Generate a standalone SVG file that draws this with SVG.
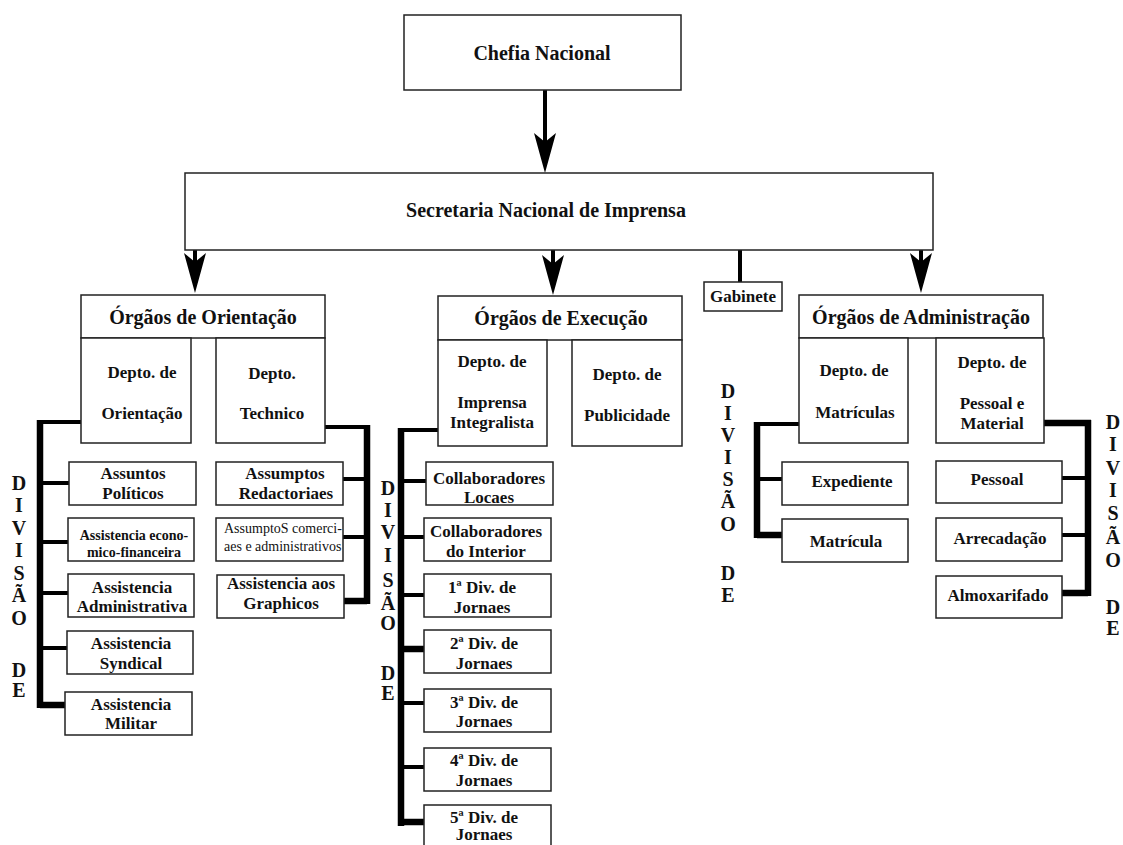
<svg xmlns="http://www.w3.org/2000/svg" width="1123" height="845" viewBox="0 0 1123 845">
<style>
.box{fill:#fff;stroke:#222;stroke-width:1.5}
.t{font-family:"Liberation Serif","Times New Roman",serif;font-weight:bold;font-size:17px;text-anchor:middle;fill:#111}
.h{font-size:20px}
.s14{font-size:14px}
.reg{font-weight:normal;text-anchor:start}
.dv{font-family:"Liberation Serif","Times New Roman",serif;font-weight:bold;font-size:20px;text-anchor:middle;fill:#111}
.ln{stroke:#000;fill:none;stroke-linecap:butt}
.w4{stroke-width:4}
.w6{stroke-width:6.5}
</style>
<defs>
<marker id="ah" markerUnits="userSpaceOnUse" viewBox="0 0 40 22" markerWidth="40" markerHeight="22" refX="9" refY="11" orient="auto">
<path d="M0,0 Q22,6 40,11 Q22,16 0,22 L9,11 Z" fill="#000"/>
</marker>
</defs>
<rect x="0" y="0" width="1123" height="845" fill="#fff"/>

<g id="connectors">
<line class="ln w4" x1="545" y1="90" x2="545" y2="142" marker-end="url(#ah)"/>
<line class="ln w4" x1="195" y1="250" x2="195" y2="262" marker-end="url(#ah)"/>
<line class="ln w4" x1="553" y1="250" x2="553" y2="264" marker-end="url(#ah)"/>
<line class="ln w4" x1="921" y1="250" x2="921" y2="262" marker-end="url(#ah)"/>
<line class="ln w4" x1="740" y1="250" x2="740" y2="282"/>
<!-- Orientação bus -->
<line class="ln w4" x1="40" y1="422" x2="81" y2="422"/>
<line class="ln w6" x1="40" y1="420" x2="40" y2="708"/>
<line class="ln w4" x1="40" y1="483" x2="69" y2="483"/>
<line class="ln w4" x1="40" y1="542" x2="68" y2="542"/>
<line class="ln w4" x1="40" y1="593" x2="68" y2="593"/>
<line class="ln w4" x1="40" y1="648" x2="67" y2="648"/>
<line class="ln w6" x1="40" y1="705" x2="65" y2="705"/>
<!-- Technico bus -->
<line class="ln w4" x1="325" y1="427" x2="370" y2="427"/>
<line class="ln w6" x1="367" y1="425" x2="367" y2="604"/>
<line class="ln w4" x1="343" y1="479" x2="367" y2="479"/>
<line class="ln w4" x1="343" y1="537" x2="367" y2="537"/>
<line class="ln w6" x1="344" y1="601" x2="367" y2="601"/>
<!-- Execução bus -->
<line class="ln w4" x1="401" y1="430" x2="438" y2="430"/>
<line class="ln w6" x1="401" y1="428" x2="401" y2="826"/>
<line class="ln w4" x1="401" y1="481" x2="426" y2="481"/>
<line class="ln w4" x1="401" y1="537" x2="424" y2="537"/>
<line class="ln w4" x1="401" y1="595" x2="424" y2="595"/>
<line class="ln w6" x1="401" y1="649" x2="424" y2="649"/>
<line class="ln w4" x1="401" y1="703" x2="424" y2="703"/>
<line class="ln w4" x1="401" y1="767" x2="424" y2="767"/>
<line class="ln w6" x1="401" y1="822" x2="424" y2="822"/>
<!-- Matrículas bus -->
<line class="ln w4" x1="757" y1="424" x2="799" y2="424"/>
<line class="ln w6" x1="757" y1="422" x2="757" y2="538"/>
<line class="ln w4" x1="757" y1="479" x2="782" y2="479"/>
<line class="ln w6" x1="757" y1="535" x2="782" y2="535"/>
<!-- Pessoal e Material bus -->
<line class="ln w6" x1="1044" y1="423" x2="1091" y2="423"/>
<line class="ln w6" x1="1088" y1="420" x2="1088" y2="596"/>
<line class="ln w4" x1="1062" y1="478" x2="1088" y2="478"/>
<line class="ln w4" x1="1062" y1="535" x2="1088" y2="535"/>
<line class="ln w6" x1="1062" y1="593" x2="1088" y2="593"/>
</g>

<g id="chefia"><rect class="box" x="404" y="15" width="277" height="75"/><text class="t h" x="542" y="60">Chefia Nacional</text></g>
<g id="secretaria"><rect class="box" x="185" y="173" width="748" height="77"/><text class="t h" x="546" y="217">Secretaria Nacional de Imprensa</text></g>
<g id="gabinete"><rect class="box" x="704" y="282" width="78" height="29"/><text class="t" x="743" y="302">Gabinete</text></g>

<g id="orientacao"><rect class="box" x="81" y="295" width="244" height="43"/><text class="t h" x="203" y="324">Órgãos de Orientação</text></g>
<g id="depto-orientacao"><rect class="box" x="81" y="338" width="110" height="105"/><text class="t" x="142" y="378">Depto. de</text><text class="t" x="142" y="419">Orientação</text></g>
<g id="depto-technico"><rect class="box" x="216" y="338" width="109" height="105"/><text class="t" x="272" y="379">Depto.</text><text class="t" x="272" y="419">Technico</text></g>
<g id="assuntos-politicos"><rect class="box" x="69" y="462" width="127" height="43"/><text class="t" x="133" y="479">Assuntos</text><text class="t" x="133" y="499">Políticos</text></g>
<g id="assist-econ"><rect class="box" x="68" y="518" width="126" height="43"/><text class="t s14" x="134" y="540">Assistencia econo-</text><text class="t s14" x="134" y="557">mico-financeira</text></g>
<g id="assist-admin"><rect class="box" x="68" y="574" width="126" height="43"/><text class="t" x="132" y="593">Assistencia</text><text class="t" x="132" y="612">Administrativa</text></g>
<g id="assist-syndical"><rect class="box" x="67" y="631" width="126" height="43"/><text class="t" x="131" y="649">Assistencia</text><text class="t" x="131" y="669">Syndical</text></g>
<g id="assist-militar"><rect class="box" x="65" y="692" width="127" height="43"/><text class="t" x="131" y="710">Assistencia</text><text class="t" x="131" y="729">Militar</text></g>
<g id="assumptos-redact"><rect class="box" x="216" y="462" width="127" height="43"/><text class="t" x="285" y="479">Assumptos</text><text class="t" x="286" y="499">Redactoriaes</text></g>
<g id="assumptos-comerc"><rect class="box" x="216" y="518" width="127" height="43"/><text class="t s14 reg" x="224" y="533">AssumptoS comerci-</text><text class="t s14 reg" x="224" y="551">aes e administrativos</text></g>
<g id="assist-graphicos"><rect class="box" x="217" y="575" width="127" height="43"/><text class="t" x="281" y="589">Assistencia aos</text><text class="t" x="281" y="609">Graphicos</text></g>

<g id="execucao"><rect class="box" x="438" y="296" width="244" height="44"/><text class="t h" x="561" y="325">Órgãos de Execução</text></g>
<g id="depto-imprensa"><rect class="box" x="438" y="340" width="109" height="106"/><text class="t" x="492" y="367">Depto. de</text><text class="t" x="492" y="408">Imprensa</text><text class="t" x="492" y="428">Integralista</text></g>
<g id="depto-publicidade"><rect class="box" x="572" y="340" width="110" height="106"/><text class="t" x="627" y="380">Depto. de</text><text class="t" x="627" y="421">Publicidade</text></g>
<g id="collab-locaes"><rect class="box" x="426" y="462" width="127" height="43"/><text class="t" x="489" y="484">Collaboradores</text><text class="t" x="489" y="503">Locaes</text></g>
<g id="collab-interior"><rect class="box" x="424" y="518" width="127" height="43"/><text class="t" x="486" y="537">Collaboradores</text><text class="t" x="486" y="557">do Interior</text></g>
<g id="div1"><rect class="box" x="424" y="574" width="127" height="43"/><text class="t" x="482" y="593">1ª Div. de</text><text class="t" x="482" y="613">Jornaes</text></g>
<g id="div2"><rect class="box" x="424" y="630" width="127" height="43"/><text class="t" x="484" y="649">2ª Div. de</text><text class="t" x="484" y="669">Jornaes</text></g>
<g id="div3"><rect class="box" x="424" y="689" width="127" height="43"/><text class="t" x="484" y="708">3ª Div. de</text><text class="t" x="484" y="727">Jornaes</text></g>
<g id="div4"><rect class="box" x="424" y="748" width="127" height="43"/><text class="t" x="484" y="766">4ª Div. de</text><text class="t" x="484" y="786">Jornaes</text></g>
<g id="div5"><rect class="box" x="424" y="805" width="127" height="44"/><text class="t" x="484" y="823">5ª Div. de</text><text class="t" x="484" y="840">Jornaes</text></g>

<g id="administracao"><rect class="box" x="799" y="295" width="244" height="43"/><text class="t h" x="921" y="324">Órgãos de Administração</text></g>
<g id="depto-matriculas"><rect class="box" x="799" y="338" width="109" height="105"/><text class="t" x="854" y="376">Depto. de</text><text class="t" x="855" y="418">Matrículas</text></g>
<g id="depto-pessoal"><rect class="box" x="936" y="338" width="108" height="105"/><text class="t" x="992" y="368">Depto. de</text><text class="t" x="992" y="409">Pessoal e</text><text class="t" x="992" y="429">Material</text></g>
<g id="expediente"><rect class="box" x="782" y="462" width="126" height="43"/><text class="t" x="852" y="487">Expediente</text></g>
<g id="matricula"><rect class="box" x="782" y="519" width="126" height="43"/><text class="t" x="846" y="547">Matrícula</text></g>
<g id="pessoal"><rect class="box" x="936" y="461" width="126" height="42"/><text class="t" x="997" y="485">Pessoal</text></g>
<g id="arrecadacao"><rect class="box" x="936" y="518" width="126" height="43"/><text class="t" x="1000" y="544">Arrecadação</text></g>
<g id="almoxarifado"><rect class="box" x="936" y="576" width="126" height="42"/><text class="t" x="998" y="601">Almoxarifado</text></g>

<g id="divisao-orientacao" class="dv">
<text x="19" y="490">D</text><text x="19" y="512">I</text><text x="19" y="535">V</text><text x="19" y="557">I</text><text x="19" y="580">S</text><text x="19" y="602">Ã</text><text x="19" y="625">O</text><text x="19" y="677">D</text><text x="19" y="697">E</text>
</g>
<g id="divisao-execucao" class="dv">
<text x="388" y="495">D</text><text x="388" y="517">I</text><text x="388" y="539">V</text><text x="388" y="562">I</text><text x="388" y="587">S</text><text x="388" y="610">Ã</text><text x="388" y="630">O</text><text x="388" y="680">D</text><text x="388" y="700">E</text>
</g>
<g id="divisao-matriculas" class="dv">
<text x="728" y="398">D</text><text x="728" y="420">I</text><text x="728" y="442">V</text><text x="728" y="464">I</text><text x="728" y="486">S</text><text x="728" y="508">Ã</text><text x="728" y="531">O</text><text x="728" y="580">D</text><text x="728" y="602">E</text>
</g>
<g id="divisao-pessoal" class="dv">
<text x="1113" y="429">D</text><text x="1113" y="451">I</text><text x="1113" y="475">V</text><text x="1113" y="497">I</text><text x="1113" y="520">S</text><text x="1113" y="544">Ã</text><text x="1113" y="567">O</text><text x="1113" y="614">D</text><text x="1113" y="635">E</text>
</g>
</svg>
